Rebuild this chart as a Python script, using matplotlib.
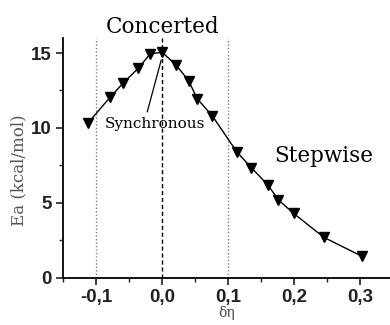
import numpy as np
import matplotlib.pyplot as plt
from matplotlib.ticker import MultipleLocator, FuncFormatter

# data
delta_eta = [-0.112, -0.079, -0.059, -0.036, -0.018, 0.0, 0.021, 0.040,
             0.053, 0.076, 0.113, 0.135, 0.160, 0.176, 0.199, 0.245, 0.302]
ea = [10.35, 12.05, 13.0, 14.0, 14.95, 15.05, 14.2, 13.15,
      11.95, 10.8, 8.4, 7.35, 6.2, 5.2, 4.3, 2.7, 1.45]
region_lines = [-0.1, 0.0, 0.1]

serif = ['DejaVu Serif']

fig = plt.figure(figsize=(3.9, 3.25), dpi=100)
ax = fig.add_axes([0.162, 0.145, 0.838, 0.738])

'''boundaries between regimes'''
ax.axvline(region_lines[0], color='gray', lw=1.0, ls=(0, (1, 1.5)), zorder=1)
ax.axvline(region_lines[1], color='black', lw=1.0, ls=(0, (3, 2)), zorder=1)
ax.axvline(region_lines[2], color='gray', lw=1.0, ls=(0, (1, 1.5)), zorder=1)

ax.plot(delta_eta, ea, color='black', lw=1.0, marker='v', ms=7,
        markerfacecolor='black', zorder=3)

ax.set_xlim(-0.15, 0.345)
ax.set_ylim(0, 16)
ax.xaxis.set_major_locator(MultipleLocator(0.1))
ax.xaxis.set_minor_locator(MultipleLocator(0.05))
ax.yaxis.set_major_locator(MultipleLocator(5))
ax.yaxis.set_minor_locator(MultipleLocator(2.5))
ax.xaxis.set_major_formatter(FuncFormatter(lambda v, p: f'{v:.1f}'.replace('.', ',')))

for s in ['top', 'right']:
    ax.spines[s].set_visible(False)
for s in ['left', 'bottom']:
    ax.spines[s].set_linewidth(1.3)
ax.tick_params(which='major', direction='out', length=5, width=1.2, colors='#222222', pad=3)
ax.tick_params(which='minor', direction='out', length=3, width=1.0, colors='#222222')
for lab in ax.get_xticklabels() + ax.get_yticklabels():
    lab.set_fontfamily('Liberation Sans')
    lab.set_fontstretch('normal')
    lab.set_fontweight('bold')
    lab.set_fontsize(13.5)

ax.set_ylabel('Ea (kcal/mol)', family=serif, fontsize=12, color='#555555')
ax.yaxis.set_label_coords(-0.11, 0.45)
ax.set_xlabel('δη', family=serif, fontsize=10, color='#444444', labelpad=0)

ax.text(0.0, 16.33, 'Concerted', family=serif, fontsize=15.5, ha='center', va='baseline',
        clip_on=False)
ax.text(0.245, 7.73, 'Stepwise', family=serif, fontsize=15.5, ha='center', va='baseline')
ax.text(-0.011, 10.0, 'Synchronous', family=serif, fontsize=11, ha='center', va='baseline')
ax.annotate('', xy=(-0.0015, 14.53), xytext=(-0.0227, 11.07),
            arrowprops=dict(arrowstyle='-', color='black', lw=0.9, shrinkA=0, shrinkB=0))

fig.savefig('out.png', dpi=100)
